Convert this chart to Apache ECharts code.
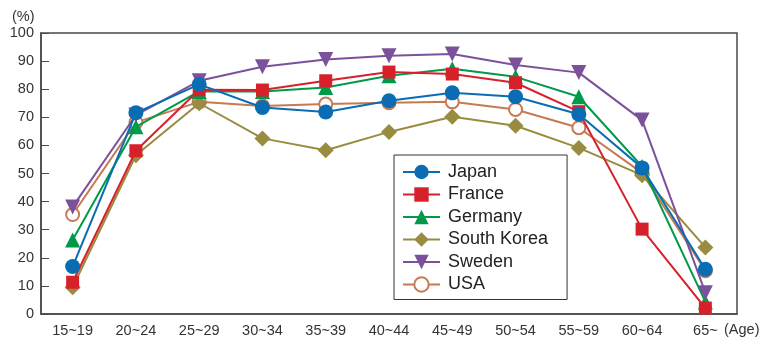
<!DOCTYPE html>
<html>
<head>
<meta charset="utf-8">
<script src="https://cdn.jsdelivr.net/npm/echarts@6/dist/echarts.min.js"></script>
<style>
  html, body { margin: 0; padding: 0; background: #fff; }
  #chart { width: 765px; height: 338px; }
</style>
</head>
<body>
<div id="chart"></div>
<script>
// Labour force participation rate of women by age group (%)
const ageGroups = ['15~19', '20~24', '25~29', '30~34', '35~39', '40~44', '45~49', '50~54', '55~59', '60~64', '65~'];

const japan      = [16.9, 71.6, 81.7, 73.5, 71.9, 75.9, 78.7, 77.3, 71.1, 52.0, 15.9];
const france     = [11.3, 58.1, 79.8, 79.7, 83.0, 86.1, 85.4, 82.3, 72.0, 30.2, 2.1];
const germany    = [26.3, 66.6, 79.2, 79.2, 80.6, 84.8, 87.3, 84.4, 77.3, 52.5, 4.3];
const southKorea = [9.5, 56.5, 75.0, 62.5, 58.3, 64.8, 70.2, 67.0, 59.1, 49.4, 23.7];
const sweden     = [38.1, 70.8, 83.0, 88.0, 90.6, 91.9, 92.5, 88.6, 85.9, 69.0, 7.6];
const usa        = [35.4, 68.2, 75.5, 74.0, 74.7, 75.2, 75.5, 72.8, 66.3, 50.2, 15.4];

const yTicks = { min: 0, max: 100, step: 10 };

const FONT = '"Liberation Sans", Arial, Helvetica, sans-serif';

function lineSeries(name, data, color, symbol, size, z, extra) {
  return Object.assign({
    name: name,
    type: 'line',
    data: data,
    z: z,
    symbol: symbol,
    symbolSize: size,
    lineStyle: { color: color, width: 2 },
    itemStyle: { color: color, borderColor: color, borderWidth: 0 },
    emphasis: { disabled: true }
  }, extra || {});
}

const chart = echarts.init(document.getElementById('chart'), null, { renderer: 'canvas' });

chart.setOption({
  backgroundColor: '#ffffff',
  animation: false,
  grid: { left: 41, top: 33, right: 28, bottom: 24, show: true, borderColor: '#4a4a4a', borderWidth: 1.5 },
  legend: {
    data: ['Japan', 'France', 'Germany', 'South Korea', 'Sweden', 'USA'],
    orient: 'vertical',
    left: 394,
    top: 155,
    padding: [8, 19, 6, 8],
    itemWidth: 37,
    itemHeight: 18,
    itemGap: 4.5,
    backgroundColor: '#ffffff',
    borderColor: '#333',
    borderWidth: 1,
    borderRadius: 0,
    textStyle: { fontFamily: FONT, fontSize: 18, color: '#222', padding: [0, 0, 0, 3] }
  },
  xAxis: {
    type: 'category',
    data: ageGroups,
    boundaryGap: true,
    axisLine: { lineStyle: { color: '#4a4a4a', width: 1.5 } },
    axisTick: { inside: true, length: 8, alignWithLabel: true, lineStyle: { color: '#4a4a4a', width: 1 } },
    axisLabel: { fontFamily: FONT, fontSize: 14.5, color: '#333', margin: 9 },
    splitLine: { show: false }
  },
  yAxis: {
    type: 'value',
    min: yTicks.min,
    max: yTicks.max,
    interval: yTicks.step,
    axisLine: { show: true, lineStyle: { color: '#4a4a4a', width: 1.5 } },
    axisTick: { show: true, inside: true, length: 8, lineStyle: { color: '#4a4a4a', width: 1 } },
    axisLabel: { fontFamily: FONT, fontSize: 14.5, color: '#333', margin: 7 },
    splitLine: { show: false }
  },
  graphic: [
    { type: 'text', left: 12, top: 9, style: { text: '(%)', fontFamily: FONT, fontSize: 14.5, fill: '#333' } },
    { type: 'text', left: 724, top: 322, style: { text: '(Age)', fontFamily: FONT, fontSize: 14.5, fill: '#333' } }
  ],
  series: [
    lineSeries('Japan', japan, '#0a6db3', 'circle', 15, 7),
    lineSeries('France', france, '#d6212b', 'rect', 13, 5),
    lineSeries('Germany', germany, '#009a4a', 'triangle', 15, 4),
    lineSeries('South Korea', southKorea, '#998b3f', 'diamond', 16, 3),
    lineSeries('Sweden', sweden, '#7b519b', 'triangle', 15, 6, { symbolRotate: 180 }),
    lineSeries('USA', usa, '#c77a52', 'emptyCircle', 13, 2, {
      itemStyle: { color: '#c77a52', borderColor: '#c77a52', borderWidth: 2 }
    })
  ]
});
</script>
</body>
</html>
